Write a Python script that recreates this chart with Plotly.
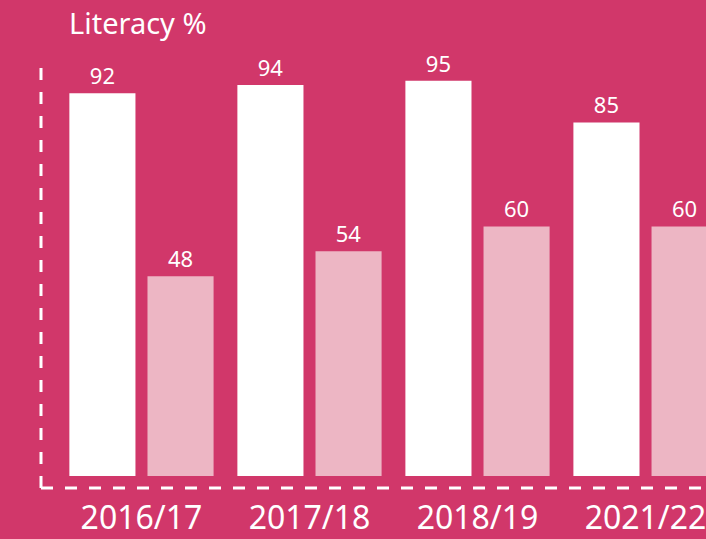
import plotly.graph_objects as go

years = ["2016/17", "2017/18", "2018/19", "2021/22"]
series_a = [92, 94, 95, 85]
series_b = [48, 54, 60, 60]

BG = "rgb(209,55,106)"
PINK = "rgb(237,182,196)"
FONT = "Noto Sans"

fig = go.Figure()
fig.add_trace(go.Bar(x=years, y=series_a, marker=dict(color="white", line=dict(width=0)),
                     text=series_a, textposition="outside", textfont=dict(color="white", size=22, family=FONT),
                     cliponaxis=False))
fig.add_trace(go.Bar(x=years, y=series_b, marker=dict(color=PINK, line=dict(width=0)),
                     text=series_b, textposition="outside", textfont=dict(color="white", size=22, family=FONT),
                     cliponaxis=False))

fig.update_layout(
    width=706, height=539,
    paper_bgcolor=BG, plot_bgcolor=BG,
    margin=dict(l=41, r=0, t=60, b=51, autoexpand=False),
    showlegend=False,
    barmode="group", bargap=0.07, bargroupgap=0.154,
    font=dict(family=FONT, color="white"),
    xaxis=dict(range=[-0.598, 3.36], showgrid=False, zeroline=False, showline=False,
               automargin=False, ticks="outside", ticklen=2, tickcolor=BG,
               tickfont=dict(size=32, color="white", family=FONT)),
    yaxis=dict(range=[-2.9, 100], visible=False, showgrid=False, zeroline=False, automargin=False),
)

fig.add_shape(type="line", xref="paper", yref="paper", x0=0, x1=0, y0=0, y1=1,
              line=dict(color="white", width=3, dash="12px,12px"))
fig.add_shape(type="line", xref="paper", yref="paper", x0=0, x1=1, y0=0, y1=0,
              line=dict(color="white", width=3, dash="12px,12px"))

fig.add_annotation(text="Literacy %", xref="paper", yref="paper", x=26/665, y=1 + 38/428,
                   xanchor="left", yanchor="middle", showarrow=False,
                   font=dict(size=29, color="white", family=FONT))

fig.write_html("out.html", config={"displayModeBar": False},
               post_script="document.body.style.margin='0';document.body.style.overflow='hidden';")
